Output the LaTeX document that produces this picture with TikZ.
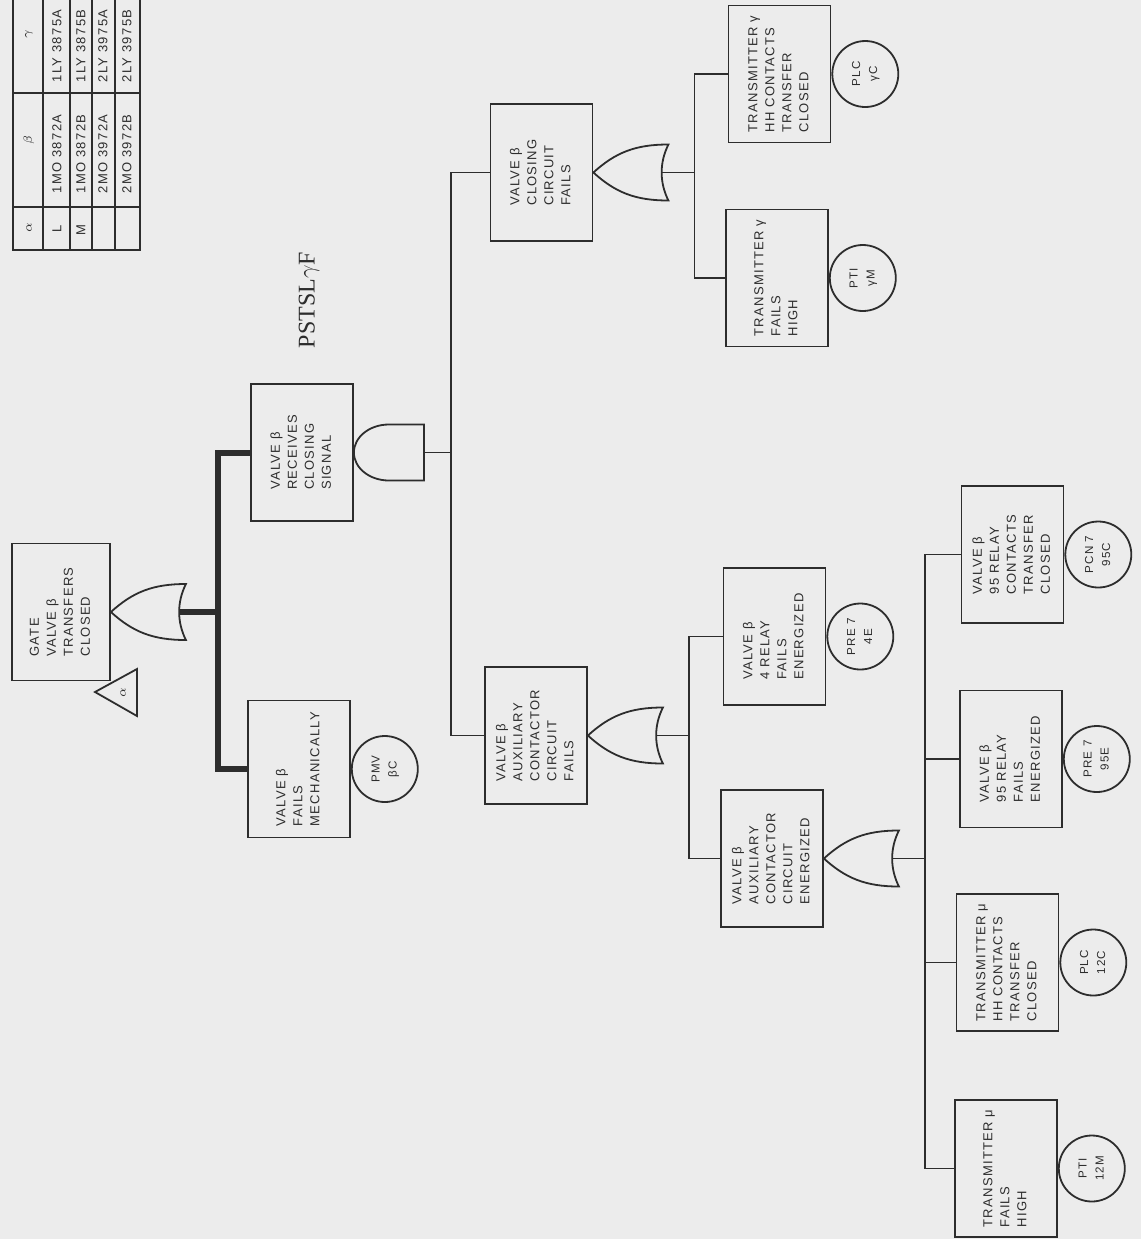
\documentclass[tikz,border=0pt]{standalone}
\usepackage{graphicx}
\usepackage{fontspec}
\setmainfont{Liberation Serif}
\newfontfamily\boxfont[LetterSpace=10]{Liberation Sans}
\definecolor{paper}{RGB}{236,236,236}
\definecolor{ink}{RGB}{45,45,45}
\newcommand{\rtxt}[1]{\rotatebox{90}{\fontsize{6.5}{8.5}\boxfont\begin{tabular}{@{}l@{}}#1\end{tabular}}}
\newcommand{\ctxt}[1]{\rotatebox{90}{\fontsize{5.8}{8.5}\boxfont\begin{tabular}{@{}c@{}}#1\end{tabular}}}
\tikzset{
  box/.style={draw=ink, line width=0.9pt, fill=paper, minimum width=51pt, minimum height=68.5pt, inner sep=0pt},
  evt/.style={circle, draw=ink, line width=0.9pt, fill=paper, minimum size=33pt, inner sep=0pt, anchor=west},
  wire/.style={draw=ink, line width=0.7pt},
  bus/.style={draw=ink, line width=3pt},
  gate/.style={draw=ink, line width=0.9pt, fill=paper},
  tbl/.style={draw=ink, line width=0.7pt},
  tt/.style={rotate=90, inner sep=0pt, text=ink, font=\fontsize{6.5}{8}\boxfont},
  orgate/.pic={
    \path[gate] (0,0) .. controls (22,20) and (42,28) .. (75,28)
      .. controls (66,10) and (66,-10) .. (75,-28)
      .. controls (42,-28) and (22,-20) .. (0,0) -- cycle;
    \coordinate (-out) at (0,0);
    \coordinate (-in) at (68,0);
  },
  andgate/.pic={
    \path[gate] (70,28) -- (35,28) arc[start angle=90, end angle=270, x radius=35, y radius=28] -- (70,-28) -- cycle;
    \coordinate (-out) at (0,0);
    \coordinate (-in) at (70,0);
  }
}
\begin{document}
\begin{tikzpicture}[x=0.5pt, y=0.5pt, text=ink]
\useasboundingbox (0,0) rectangle (1141,-1239);
\fill[paper] (0,0) rectangle (1141,-1239);

% table
\draw[tbl] (13,0) -- (13,-250) -- (140,-250) -- (140,0);
\foreach \xx in {43,70,92,115} \draw[tbl] (\xx,0) -- (\xx,-250);
\draw[tbl] (13,-93) -- (140,-93);
\draw[tbl] (13,-207) -- (140,-207);
\node[tt] (ha) at (29,-228) {$\alpha$};
\node[tt] (hb) at (29,-140) {$\beta$};
\node[tt] (hg) at (29,-34) {$\gamma$};
\node[tt] (r1a) at (57,-229) {L};
\node[tt] (r1b) at (57,-154) {1MO 3872A};
\node[tt] (r1g) at (57,-46) {1LY 3875A};
\node[tt] (r2a) at (81,-230) {M};
\node[tt] (r2b) at (81,-154) {1MO 3872B};
\node[tt] (r2g) at (81,-46) {1LY 3875B};
\node[tt] (r3b) at (103,-154) {2MO 3972A};
\node[tt] (r3g) at (103,-46) {2LY 3975A};
\node[tt] (r4b) at (127,-154) {2MO 3972B};
\node[tt] (r4g) at (127,-46) {2LY 3975B};

% title
\node[rotate=90, inner sep=0pt, font=\fontsize{12}{14}\selectfont] (title) at (309,-300) {PSTSL$\gamma$F};

% top event
\node[box, minimum width=49pt] (bG0) at (61,-612) {\rtxt{GATE\\VALVE β\\TRANSFERS\\CLOSED}};
\pic (g0) at (bG0.east) {orgate};
\draw[gate] (95,-692) -- (137,-669) -- (137,-716) -- cycle;
\node[rotate=90, inner sep=0pt, font=\fontsize{6}{7}\selectfont] (tra) at (123,-693) {$\alpha$};

% level 1
\node[box] (bR) at (302,-452.5) {\rtxt{VALVE β\\RECEIVES\\CLOSING\\SIGNAL}};
\pic (gR) at (bR.east) {andgate};
\node[box] (bM) at (299,-769) {\rtxt{VALVE β\\FAILS\\MECHANICALLY}};
\node[evt] (eM) at (bM.east) {\ctxt{PMV\\βC}};

% level 2
\node[box] (bC) at (541.5,-172.5) {\rtxt{VALVE β\\CLOSING\\CIRCUIT\\FAILS}};
\pic (gC) at (bC.east) {orgate};
\node[box] (bA) at (536,-735.5) {\rtxt{VALVE β\\AUXILIARY\\CONTACTOR\\CIRCUIT\\FAILS}};
\pic (gA) at (bA.east) {orgate};

% level 3
\node[box] (bT1) at (779.5,-74) {\rtxt{TRANSMITTER γ\\HH CONTACTS\\TRANSFER\\CLOSED}};
\node[evt] (eT1) at (bT1.east) {\ctxt{PLC\\γC}};
\node[box] (bT2) at (777,-278) {\rtxt{TRANSMITTER γ\\FAILS\\HIGH}};
\node[evt] (eT2) at (bT2.east) {\ctxt{PTI\\γM}};
\node[box] (bR4) at (774.5,-636.5) {\rtxt{VALVE β\\4 RELAY\\FAILS\\ENERGIZED}};
\node[evt] (eR4) at (bR4.east) {\ctxt{PRE 7\\4E}};
\node[box] (bAE) at (772,-858.5) {\rtxt{VALVE β\\AUXILIARY\\CONTACTOR\\CIRCUIT\\ENERGIZED}};
\pic (gAE) at (bAE.east) {orgate};

% level 4
\node[box] (b95C) at (1012.5,-554.5) {\rtxt{VALVE β\\95 RELAY\\CONTACTS\\TRANSFER\\CLOSED}};
\node[evt] (e95C) at (b95C.east) {\ctxt{PCN 7\\95C}};
\node[box] (b95E) at (1011,-759) {\rtxt{VALVE β\\95 RELAY\\FAILS\\ENERGIZED}};
\node[evt] (e95E) at (b95E.east) {\ctxt{PRE 7\\95E}};
\node[box] (b12C) at (1007.5,-962.5) {\rtxt{TRANSMITTER μ\\HH CONTACTS\\TRANSFER\\CLOSED}};
\node[evt] (e12C) at (b12C.east) {\ctxt{PLC\\12C}};
\node[box] (b12M) at (1006,-1168.5) {\rtxt{TRANSMITTER μ\\FAILS\\HIGH}};
\node[evt] (e12M) at (b12M.east) {\ctxt{PTI\\12M}};

% connectors
\draw[bus] (g0-in) -- ++(39,0) |- (bR.west);
\draw[bus] (g0-in) -- ++(39,0) |- (bM.west);
\draw[wire] (gR-in) -- ++(27,0) |- (bC.west);
\draw[wire] (gR-in) -- ++(27,0) |- (bA.west);
\draw[wire] (gC-in) -- ++(33,0) |- (bT1.west);
\draw[wire] (gC-in) -- ++(33,0) |- (bT2.west);
\draw[wire] (gA-in) -- ++(33,0) |- (bR4.west);
\draw[wire] (gA-in) -- ++(33,0) |- (bAE.west);
\draw[wire] (gAE-in) -- ++(33,0) |- (b95C.west);
\draw[wire] (gAE-in) -- ++(33,0) |- (b95E.west);
\draw[wire] (gAE-in) -- ++(33,0) |- (b12C.west);
\draw[wire] (gAE-in) -- ++(33,0) |- (b12M.west);
\end{tikzpicture}
\end{document}
